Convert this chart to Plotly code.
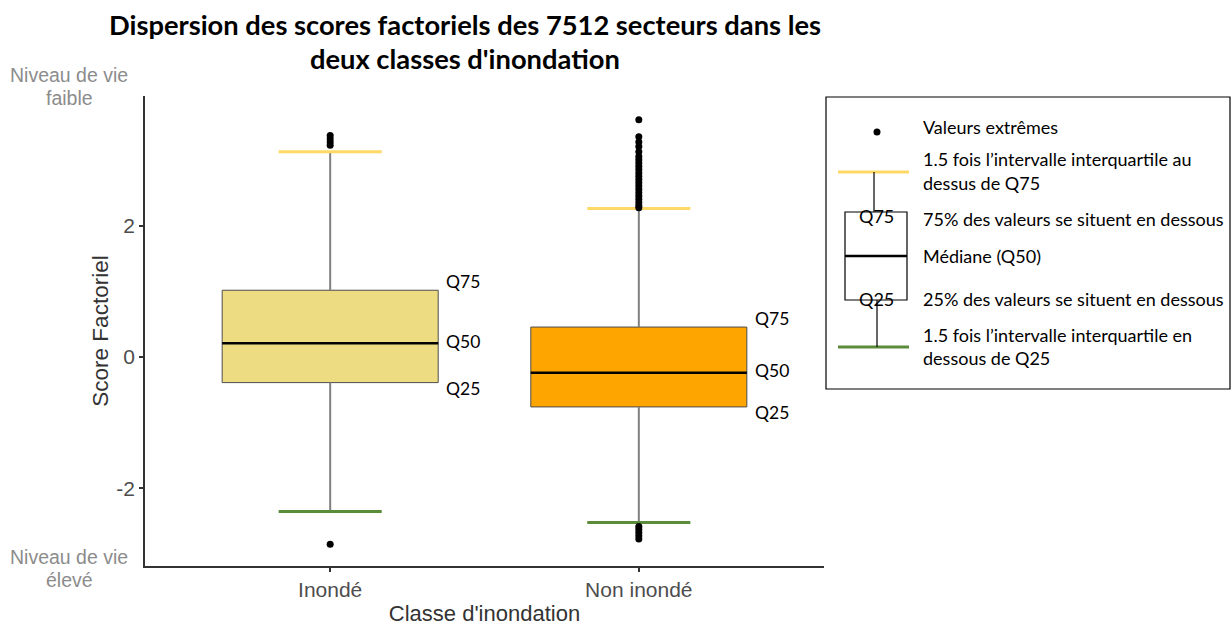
import plotly.graph_objects as go

# ---------------- data ----------------
categories = ["Inondé", "Non inondé"]
q1 = [-0.39, -0.76]
median = [0.21, -0.24]
q3 = [1.015, 0.455]
lower_fence = [-2.35, -2.52]
upper_fence = [3.12, 2.26]
outliers_inonde = [3.37, 3.32, 3.27, 3.22, -2.85]
outliers_non_inonde = [3.61, 3.35, 3.27, 3.20, 3.12, 3.05, 3.00, 2.95, 2.90,
                       2.85, 2.80, 2.75, 2.70, 2.65, 2.60, 2.55, 2.50, 2.45,
                       2.40, 2.35, 2.30, 2.27,
                       -2.58, -2.62, -2.67, -2.72, -2.77]
outliers = [outliers_inonde, outliers_non_inonde]
box_colors = ["#EEDC82", "#FFA500"]
y_ticks = [-2, 0, 2]
y_tick_labels = ["-2", "0", "2"]
quartile_labels = ["Q75", "Q50", "Q25"]
legend_texts = [
    "Valeurs extrêmes",
    "1.5 fois l\u2019intervalle interquartile au",
    "dessus de Q75",
    "75% des valeurs se situent en dessous",
    "Médiane (Q50)",
    "25% des valeurs se situent en dessous",
    "1.5 fois l\u2019intervalle interquartile en",
    "dessous de Q25",
]
title_lines = ["Dispersion des scores factoriels des 7512 secteurs dans les",
               "deux classes d'inondation"]

# ---------------- styling ----------------
W, H = 1232, 626
L, R, T, B = 145, 824, 96, 566
BOX_W = 0.70
CAP_HALF = 0.167
YELLOW = "#FFD966"
GREEN = "#5B8C3A"
WHISKER = "#808080"
SANS = "Liberation Sans, Arial, sans-serif"
CAL = "Lato, Open Sans, sans-serif"

xpos = [1, 2]

def px(x):
    return (x - L) / (R - L)

def py(y):
    return (B - y) / (B - T)

fig = go.Figure()

for i, x in enumerate(xpos):
    # whiskers
    fig.add_trace(go.Scatter(
        x=[x, x, None, x, x],
        y=[q3[i], upper_fence[i], None, q1[i], lower_fence[i]],
        mode="lines", line=dict(color=WHISKER, width=2),
        hoverinfo="skip", showlegend=False))
    # box body
    fig.add_trace(go.Box(
        x=[x], q1=[q1[i]], median=[median[i]], q3=[q3[i]],
        lowerfence=[q1[i]], upperfence=[q3[i]],
        width=BOX_W, whiskerwidth=0, boxpoints=False,
        fillcolor=box_colors[i], line=dict(color="#4d4d4d", width=1),
        name=categories[i], showlegend=False))
    # median
    fig.add_trace(go.Scatter(
        x=[x - BOX_W / 2, x + BOX_W / 2], y=[median[i], median[i]],
        mode="lines", line=dict(color="black", width=2.5),
        hoverinfo="skip", showlegend=False))
    # caps
    fig.add_trace(go.Scatter(
        x=[x - CAP_HALF, x + CAP_HALF], y=[upper_fence[i], upper_fence[i]],
        mode="lines", line=dict(color=YELLOW, width=3),
        hoverinfo="skip", showlegend=False))
    fig.add_trace(go.Scatter(
        x=[x - CAP_HALF, x + CAP_HALF], y=[lower_fence[i], lower_fence[i]],
        mode="lines", line=dict(color=GREEN, width=3),
        hoverinfo="skip", showlegend=False))
    # outliers
    fig.add_trace(go.Scatter(
        x=[x] * len(outliers[i]), y=outliers[i], mode="markers",
        marker=dict(color="black", size=7), showlegend=False))

annotations = []
# quartile labels beside boxes
for i, x in enumerate(xpos):
    for lab, yv, shift in zip(quartile_labels, [q3[i], median[i], q1[i]], [9, 2, -6]):
        annotations.append(dict(
            x=x + BOX_W / 2, y=yv, xref="x", yref="y", text=lab,
            xanchor="left", yanchor="middle", xshift=6, yshift=shift,
            showarrow=False, font=dict(family=CAL, size=17.5, color="black")))

# title
for txt, yy in zip(title_lines, [24, 58]):
    annotations.append(dict(
        x=px(465), y=py(yy), xref="paper", yref="paper", text="<b>" + txt + "</b>",
        xanchor="center", yanchor="middle", showarrow=False,
        font=dict(family=CAL, size=27.3, color="black")))

# side labels
for txt, yy in zip(["Niveau de vie", "faible", "Niveau de vie", "élevé"], [75, 98, 557, 580]):
    annotations.append(dict(
        x=px(69), y=py(yy), xref="paper", yref="paper", text=txt,
        xanchor="center", yanchor="middle", showarrow=False,
        font=dict(family=SANS, size=19.5, color="#8c8c8c")))

# legend texts
for txt, yy in zip(legend_texts, [127, 159, 183, 219, 256, 299, 335, 358]):
    annotations.append(dict(
        x=px(921), y=py(yy), xref="paper", yref="paper", text=txt,
        xanchor="left", yanchor="middle", showarrow=False,
        font=dict(family=CAL, size=18, color="black")))
for txt, yy in zip(["Q75", "Q25"], [216, 299]):
    annotations.append(dict(
        x=px(876), y=py(yy), xref="paper", yref="paper", text=txt,
        xanchor="center", yanchor="middle", showarrow=False,
        font=dict(family=CAL, size=18, color="black")))

shapes = [
    # legend frame
    dict(type="rect", xref="paper", yref="paper", x0=px(826), x1=px(1230),
         y0=py(389), y1=py(97), line=dict(color="black", width=1.2)),
    # legend dot
    dict(type="circle", xref="paper", yref="paper", x0=px(873.5), x1=px(880.5),
         y0=py(135.5), y1=py(128.5), fillcolor="black", line=dict(width=0)),
    # legend caps
    dict(type="line", xref="paper", yref="paper", x0=px(838), x1=px(909),
         y0=py(172), y1=py(172), line=dict(color=YELLOW, width=3)),
    dict(type="line", xref="paper", yref="paper", x0=px(838), x1=px(909),
         y0=py(347), y1=py(347), line=dict(color=GREEN, width=3)),
    # legend whiskers
    dict(type="line", xref="paper", yref="paper", x0=px(874), x1=px(874),
         y0=py(172), y1=py(212), line=dict(color="black", width=1.2)),
    dict(type="line", xref="paper", yref="paper", x0=px(877), x1=px(877),
         y0=py(300), y1=py(347), line=dict(color="black", width=1.2)),
    # legend box
    dict(type="rect", xref="paper", yref="paper", x0=px(845), x1=px(907),
         y0=py(300), y1=py(212), line=dict(color="black", width=1.2)),
    dict(type="line", xref="paper", yref="paper", x0=px(845), x1=px(907),
         y0=py(256), y1=py(256), line=dict(color="black", width=2.5)),
]

fig.update_layout(
    width=W, height=H,
    margin=dict(l=L, r=W - R, t=T, b=H - B, pad=0, autoexpand=False),
    paper_bgcolor="white", plot_bgcolor="white",
    showlegend=False,
    annotations=annotations, shapes=shapes,
    xaxis=dict(
        range=[0.4, 2.6], tickvals=xpos, ticktext=categories,
        showline=True, linecolor="#333333", linewidth=1.5,
        ticks="outside", ticklen=4, tickcolor="#333333", tickwidth=1.5,
        ticklabelstandoff=0, automargin=False,
        showgrid=False, zeroline=False,
        tickfont=dict(family=SANS, size=21, color="#4d4d4d"),
        title=dict(text="Classe d'inondation", standoff=16,
                   font=dict(family=SANS, size=22, color="#333333"))),
    yaxis=dict(
        range=[-3.18, 3.97], tickvals=y_ticks, ticktext=y_tick_labels,
        showline=True, linecolor="#333333", linewidth=1.5,
        ticks="outside", ticklen=4, tickcolor="#333333", tickwidth=1.5,
        automargin=False,
        showgrid=False, zeroline=False,
        tickfont=dict(family=SANS, size=21, color="#4d4d4d"),
        title=dict(text="Score Factoriel", standoff=1,
                   font=dict(family=SANS, size=22.5, color="#333333"))),
)

fig.write_html("out.html", config={"displayModeBar": False},
               post_script="document.body.style.margin='0';")
